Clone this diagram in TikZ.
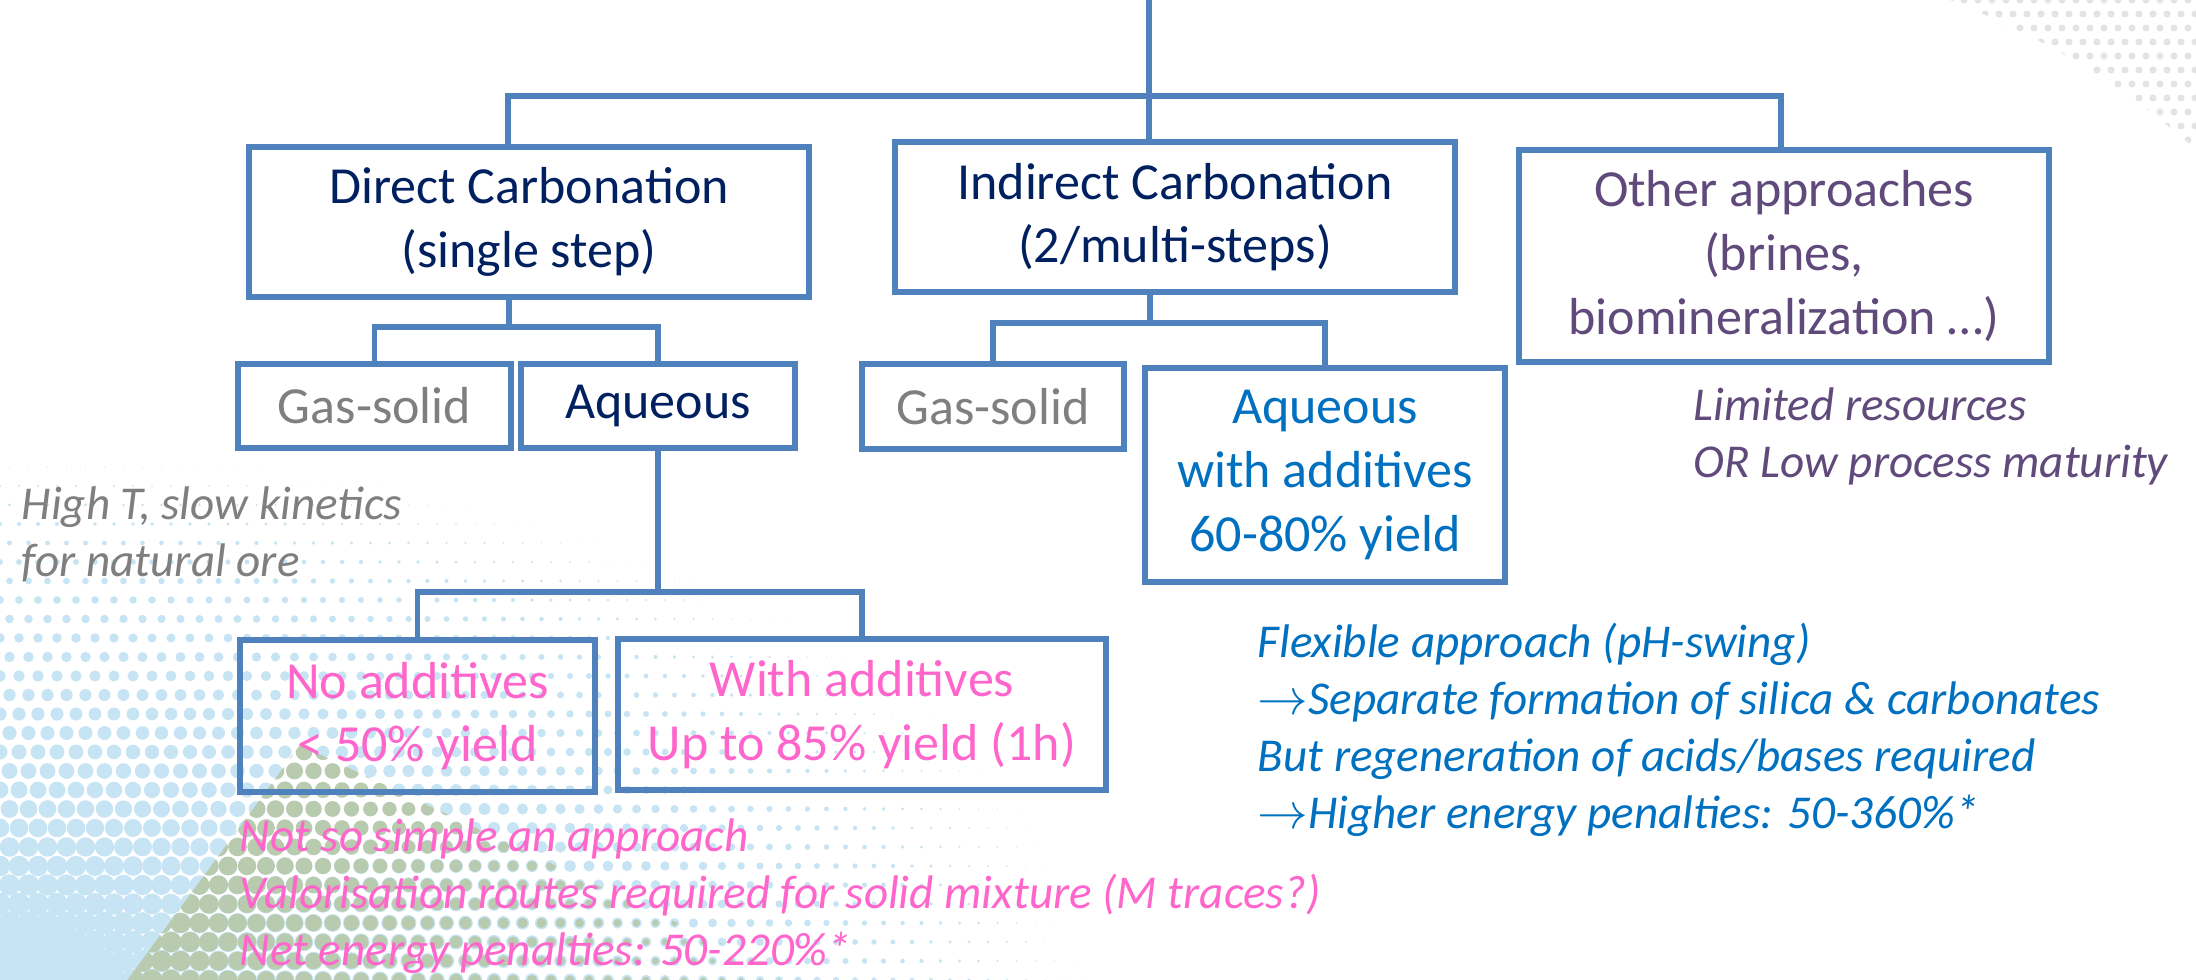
\documentclass[tikz,border=0pt]{standalone}
\usepackage{fontspec}
\setmainfont{Carlito}

\definecolor{boxblue}{HTML}{4F81BD}
\definecolor{navy}{HTML}{002060}
\definecolor{greytxt}{HTML}{7F7F7F}
\definecolor{plum}{HTML}{604A7B}
\definecolor{ocean}{HTML}{0070C0}
\definecolor{rose}{HTML}{FF66CC}
\definecolor{skyback}{HTML}{C6E4F4}
\definecolor{sageback}{HTML}{B8CBAE}

\begin{document}
\begin{tikzpicture}[x=0.01cm,y=-0.01cm,
                    box/.style={draw=boxblue,line width=1.7pt,align=center,inner sep=0pt,
                                font=\fontsize{14.8}{18.1}\selectfont},
                    link/.style={draw=boxblue,line width=1.7pt},
                    note/.style={anchor=north west,align=left,inner sep=0pt,
                                 font=\fontsize{13.4}{16.2}\selectfont\itshape}]

  \path[fill=white,use as bounding box] (0,0) rectangle (2196,980);

  % halftone in the lower left corner
  \foreach \i in {0,...,58}
    \foreach \j in {0,...,28}{
      \pgfmathsetmacro\px{19*\i+9.5*mod(\j,2)}
      \pgfmathsetmacro\rr{0.13*(1-veclen(\px/1100,19*\j/540))}
      \ifdim\rr pt>0pt \fill[skyback] (\px,980-19*\j) circle[radius=\rr cm];\fi
    }
  \begin{scope}
    \clip (120,990) -- (300,745) -- (820,990) -- cycle;
    \foreach \i in {6,...,43}
      \foreach \j in {0,...,13}{
        \pgfmathsetmacro\px{19*\i+9.5*mod(\j,2)}
        \pgfmathsetmacro\rr{0.11*(1-(\px-120)/760)}
        \ifdim\rr pt>0pt \fill[sageback] (\px,980-19*\j) circle[radius=\rr cm];\fi
      }
  \end{scope}
  % dotted swoosh top right
  \begin{scope}
    \clip (1950,0) .. controls (2050,40) and (2130,90) .. (2196,150) -- (2196,0) -- cycle;
    \foreach \i in {0,...,18}
      \foreach \j in {0,...,11}{
        \pgfmathsetmacro\px{1950+14*\i+7*mod(\j,2)}
        \fill[gray!22] (\px,14*\j) circle[radius=0.035cm];
      }
  \end{scope}

  % boxes
  \node[box,text=navy,minimum width=5.6cm,minimum height=1.49cm]  (dc)  at (529,222)  {Direct Carbonation\\(single step)};
  \node[box,text=navy,minimum width=5.6cm,minimum height=1.5cm]   (ic)  at (1175,217)   {Indirect Carbonation\\(2/multi-steps)};
  \node[box,text=plum,minimum width=5.3cm,minimum height=2.12cm]  (oa)  at (1784,256)   {Other approaches\\(brines,\\biomineralization \dots)};
  \node[box,text=greytxt,minimum width=2.73cm,minimum height=0.84cm] (gs1) at (374.5,406) {Gas-solid};
  \node[box,text=navy,minimum width=2.74cm,minimum height=0.84cm] (aq1) at (658,406)    {Aqueous};
  \node[box,text=greytxt,minimum width=2.62cm,minimum height=0.85cm] (gs2) at (993,406.5) {Gas-solid};
  \node[box,text=ocean,minimum width=3.6cm,minimum height=2.13cm] (aq2) at (1325,475) {Aqueous\\with additives\\60-80\% yield};
  \node[box,text=rose,minimum width=3.55cm,minimum height=1.51cm] (na)  at (417.5,716) {No additives\\< 50\% yield};
  \node[box,text=rose,minimum width=4.88cm,minimum height=1.5cm]  (wa)  at (862,714.5)    {With additives\\Up to 85\% yield (1h)};

  % junctions
  \coordinate (root) at (1149,0);
  \coordinate (topl) at (508,96);
  \coordinate (topr) at (1781,96);
  \coordinate (dcj)  at (509,327);
  \coordinate (icj)  at (1150,323);
  \coordinate (aqj)  at (658,592);

  \draw[link] (root) -- (root |- ic.north);
  \draw[link] (topl |- dc.north) -- (topl) -- (topr) -- (topr |- oa.north);
  \draw[link] (dcj |- dc.south) -- (dcj);
  \draw[link] (gs1.north) |- (dcj) -| (aq1.north);
  \draw[link] (icj |- ic.south) -- (icj);
  \draw[link] (gs2.north) |- (icj) -| (aq2.north);
  \draw[link] (aq1.south) -- (aqj);
  \draw[link] (na.north) |- (aqj) -| (wa.north);

  % remarks
  \node[note,text=greytxt] (hot)  at (21,486)   {High T, slow kinetics\\for natural ore};
  \node[note,text=plum]    (lim)  at (1693,387) {Limited resources\\OR Low process maturity};
  \node[note,text=ocean]   (flex) at (1257,622) {Flexible approach (pH-swing)\\$\rightarrow$Separate formation of silica \& carbonates\\But regeneration of acids/bases required\\$\rightarrow$Higher energy penalties: 50-360\%*};
  \node[note,text=rose]    (easy) at (239,818)  {Not so simple an approach\\Valorisation routes required for solid mixture (M traces?)\\Net energy penalties: 50-220\%*};
\end{tikzpicture}
\end{document}
